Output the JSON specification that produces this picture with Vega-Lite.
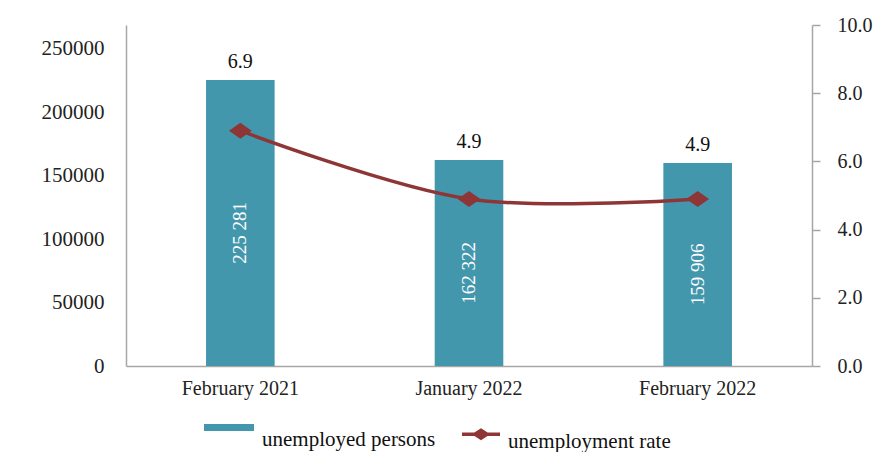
{
  "$schema": "https://vega.github.io/schema/vega-lite/v6.json",
  "autosize": {"type": "none"},
  "padding": {"left": 126, "top": 25, "right": 75, "bottom": 86},
  "width": 686,
  "height": 341,
  "background": "white",
  "data": {"values": [
    {"month": "February 2021", "persons": 225281, "label": "225 281", "rate": 6.9},
    {"month": "January 2022", "persons": 162322, "label": "162 322", "rate": 4.9},
    {"month": "February 2022", "persons": 159906, "label": "159 906", "rate": 4.9}
  ]},
  "encoding": {
    "x": {"field": "month", "type": "nominal", "sort": null,
      "scale": {"paddingInner": 0.7, "paddingOuter": 0.35},
      "axis": {"title": null, "ticks": false, "labelAngle": 0, "labelPadding": 12, "labelFontSize": 20}}
  },
  "layer": [
    {
      "mark": {"type": "bar"},
      "encoding": {
        "y": {"field": "persons", "type": "quantitative",
          "scale": {"domain": [0, 268600], "nice": false},
          "axis": {"orient": "left", "title": null, "values": [0, 50000, 100000, 150000, 200000, 250000], "format": "d", "ticks": false, "labelPadding": 22, "labelFontSize": 21}},
        "fill": {"datum": "unemployed persons", "type": "nominal",
          "scale": {"range": ["#4397AD"]},
          "legend": {"orient": "none", "legendX": 78, "legendY": 390, "title": null, "padding": 0,
            "symbolType": "M-1,-0.64H1V-0.36H-1Z", "symbolSize": 2500, "symbolStrokeWidth": 0,
            "labelFont": "Liberation Serif", "labelFontSize": 21, "labelColor": "#111", "labelOffset": 8, "labelLimit": 0}}
      }
    },
    {
      "mark": {"type": "text", "angle": 270, "align": "center", "baseline": "middle", "color": "white", "font": "Liberation Serif", "fontSize": 19, "dx": -10},
      "encoding": {
        "y": {"field": "persons", "type": "quantitative", "scale": {"domain": [0, 537200], "nice": false}, "axis": null},
        "text": {"field": "label"}
      }
    },
    {
      "mark": {"type": "text", "align": "center", "baseline": "alphabetic", "color": "#111", "font": "Liberation Serif", "fontSize": 20, "dy": -12},
      "encoding": {
        "y": {"field": "persons", "type": "quantitative", "scale": {"domain": [0, 268600], "nice": false}, "axis": null},
        "text": {"field": "rate", "format": ".1f"}
      }
    },
    {
      "mark": {"type": "line", "interpolate": "catmull-rom", "strokeWidth": 3.5},
      "encoding": {
        "y": {"field": "rate", "type": "quantitative",
          "scale": {"domain": [0, 10], "nice": false},
          "axis": {"orient": "right", "title": null, "values": [0, 2, 4, 6, 8, 10], "format": ".1f", "ticks": true, "tickSize": 8, "tickColor": "#A6A6A6", "tickWidth": 1.5, "labelPadding": 17}},
        "stroke": {"datum": "unemployment rate", "type": "nominal",
          "scale": {"range": ["#8E3636"]},
          "legend": {"orient": "none", "legendX": 334, "legendY": 396, "title": null, "padding": 0,
            "symbolType": "M-1,-0.41H1M-0.32,-0.41L0,-0.62L0.32,-0.41L0,-0.2Z", "symbolSize": 1444, "symbolStrokeWidth": 3.5,
            "symbolFillColor": "#8E3636",
            "labelFont": "Liberation Serif", "labelFontSize": 21, "labelColor": "#111", "labelOffset": 6, "labelLimit": 0}}
      }
    },
    {
      "mark": {"type": "point", "filled": true, "shape": "M-1,0L0,-0.7L1,0L0,0.7Z", "size": 520, "color": "#8E3636", "opacity": 1},
      "encoding": {
        "y": {"field": "rate", "type": "quantitative", "scale": {"domain": [0, 10], "nice": false}, "axis": null}
      }
    }
  ],
  "resolve": {"scale": {"y": "independent"}},
  "config": {
    "view": {"stroke": null},
    "axis": {"grid": false, "labelFont": "Liberation Serif", "labelFontSize": 20, "labelColor": "#222", "domainColor": "#A6A6A6", "domainWidth": 1.5}
  }
}
